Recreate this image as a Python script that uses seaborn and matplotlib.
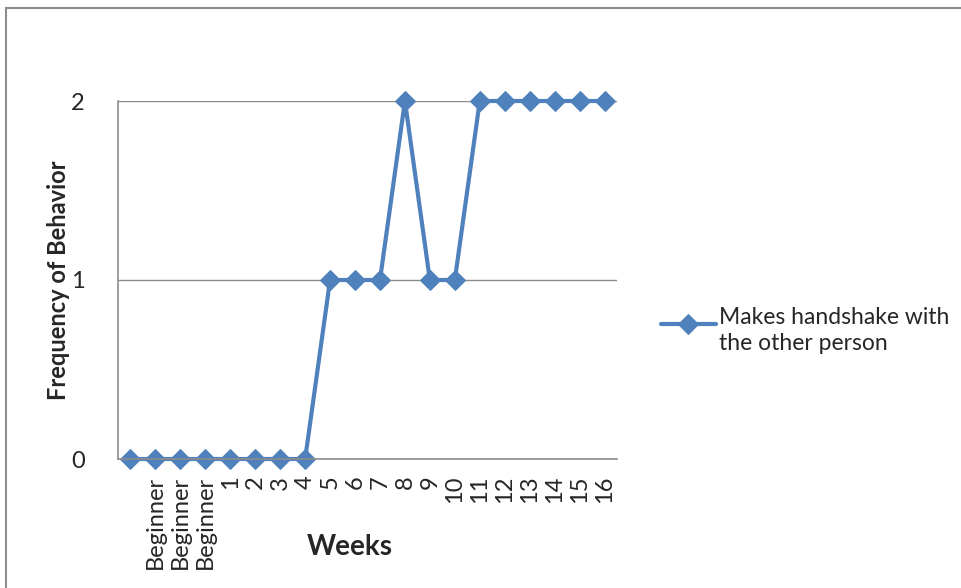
import matplotlib.pyplot as plt
import matplotlib.patches as mpatches
import seaborn as sns
import pandas as pd
import numpy as np

# Week labels (first point has no label in the original chart)
weeks = ["", "Beginner", "Beginner", "Beginner", "1", "2", "3", "4", "5", "6",
         "7", "8", "9", "10", "11", "12", "13", "14", "15", "16"]
handshake = [0, 0, 0, 0, 0, 0, 0, 0, 1, 1, 1, 2, 1, 1, 2, 2, 2, 2, 2, 2]
series_name = "Makes handshake with\nthe other person"

sns.set_theme(style="white")
plt.rcParams['font.family'] = ['Lato', 'DejaVu Sans']

df = pd.DataFrame({"pos": np.arange(len(weeks)), "value": handshake})

fig = plt.figure(figsize=(9.62, 5.88), dpi=100)
ax = fig.add_axes([118 / 962, 1 - 459 / 588, 499 / 962, 358 / 588])

# outer chart border (cut at right/bottom like the screenshot)
fig.patches.append(mpatches.Rectangle((6 / 962, -0.1), 1.2, 1 - 8 / 588 + 0.1,
                                      transform=fig.transFigure, fill=False,
                                      edgecolor='#8c8c8c', lw=1.5))

sns.lineplot(data=df, x="pos", y="value", ax=ax, color='#4F81BD', lw=3,
             marker='D', markersize=10, markeredgecolor='#4F81BD',
             label=series_name, sort=False, clip_on=False)

ax.set_xlim(-0.5, len(weeks) - 0.5)
ax.set_ylim(0, 2)
ax.set_yticks([0, 1, 2])
ax.set_yticklabels(["0", "1", "2"], fontsize=17)
ax.set_xticks(df["pos"])
ax.set_xticklabels(weeks, rotation=90, fontsize=17)
ax.tick_params(axis='x', length=0, pad=12)
ax.tick_params(axis='y', length=0, pad=24)

ax.grid(axis='y', color='#8c8c8c', lw=1)
for s in ['top', 'right']:
    ax.spines[s].set_visible(False)
for s in ['left', 'bottom']:
    ax.spines[s].set_color('#8c8c8c')
    ax.spines[s].set_linewidth(1.2)

ax.set_xlabel("Weeks", fontsize=20, fontweight='bold', va='center')
ax.xaxis.set_label_coords(0.465, -0.246)
ax.set_ylabel("Frequency of Behavior", fontsize=17, fontweight='bold', va='center')
ax.yaxis.set_label_coords(-0.12, 0.5)

# taller handle box lifts the line to the first text line, as in Excel
leg = ax.legend(loc='center left', bbox_to_anchor=(1.065, 0.36), frameon=False,
                fontsize=16.5, handlelength=2.4, handletextpad=0.15, borderpad=0,
                handleheight=2.5)
for t in leg.get_texts():
    t.set_linespacing(1.3)

fig.savefig("out.png", dpi=100)
